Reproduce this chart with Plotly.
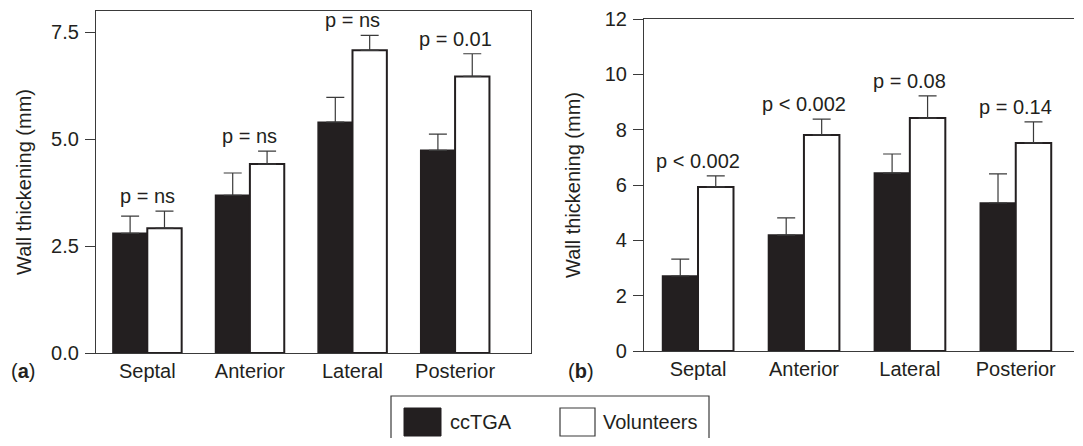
import plotly.graph_objects as go

# ---------------- data ----------------
regions = ["Septal", "Anterior", "Lateral", "Posterior"]
series_names = ["ccTGA", "Volunteers"]

a_cctga = [2.80, 3.69, 5.40, 4.74]
a_cctga_err = [0.40, 0.52, 0.58, 0.38]
a_vol = [2.92, 4.42, 7.08, 6.47]
a_vol_err = [0.40, 0.30, 0.35, 0.53]
a_pvals = ["p = ns", "p = ns", "p = ns", "p = 0.01"]
a_tickvals = [0, 2.5, 5.0, 7.5]
a_ticktext = ["0.0", "2.5", "5.0", "7.5"]

b_cctga = [2.71, 4.19, 6.43, 5.35]
b_cctga_err = [0.61, 0.62, 0.69, 1.05]
b_vol = [5.93, 7.81, 8.42, 7.52]
b_vol_err = [0.40, 0.57, 0.80, 0.76]
b_pvals = ["p < 0.002", "p < 0.002", "p = 0.08", "p = 0.14"]
b_tickvals = [0, 2, 4, 6, 8, 10, 12]
b_ticktext = ["0", "2", "4", "6", "8", "10", "12"]

panel_labels = ["a", "b"]
y_title = "Wall thickening (mm)"

# ---------------- style ----------------
PAGE_W, PAGE_H = 1083, 446
OFF = 8  # default page body margin
W, H = PAGE_W - 2 * OFF, PAGE_H - 2 * OFF   # fit inside the page without overflow
FONT = "Liberation Sans, Arial, Helvetica, sans-serif"
FS = 20
INK = "#231f20"
LINE = "#3a3a3a"


def px_x(p):
    return (p - OFF) / W


def px_y(p):
    return 1 - (p - OFF) / H


fig = go.Figure()


def add_panel(xa, ya, cct, cct_err, vol, vol_err):
    fig.add_trace(go.Bar(
        x=regions, y=cct, name=series_names[0], xaxis=xa, yaxis=ya,
        marker=dict(color=INK, line=dict(color=INK, width=1.5)),
        error_y=dict(type="data", symmetric=False, array=cct_err,
                     arrayminus=[0] * len(cct_err), color=LINE,
                     thickness=1.2, width=9),
        showlegend=False,
    ))
    fig.add_trace(go.Bar(
        x=regions, y=vol, name=series_names[1], xaxis=xa, yaxis=ya,
        marker=dict(color="white", line=dict(color=INK, width=2)),
        error_y=dict(type="data", symmetric=False, array=vol_err,
                     arrayminus=[0] * len(vol_err), color=LINE,
                     thickness=1.2, width=9),
        showlegend=False,
    ))


add_panel("x", "y", a_cctga, a_cctga_err, a_vol, a_vol_err)
add_panel("x2", "y2", b_cctga, b_cctga_err, b_vol, b_vol_err)

tickfont = dict(family=FONT, size=FS, color=INK)
titlefont = dict(family=FONT, size=FS, color=INK)

common_x = dict(type="category", showline=True, linecolor=LINE, linewidth=1.2,
                ticks="", showgrid=False, zeroline=False,
                tickfont=tickfont, ticklabelstandoff=0, automargin=False)
common_y = dict(showline=True, linecolor=LINE, linewidth=1.2,
                ticks="outside", ticklen=10, tickcolor=LINE, tickwidth=1.2,
                showgrid=False, zeroline=False, tickfont=tickfont,
                ticklabelstandoff=2, automargin=False)

fig.update_layout(
    width=W, height=H,
    margin=dict(l=0, r=0, t=0, b=0, autoexpand=False),
    paper_bgcolor="white", plot_bgcolor="white",
    barmode="group", bargap=0.33, bargroupgap=0,
    font=dict(family=FONT, size=FS, color=INK),
    showlegend=False,
    xaxis=dict(domain=[px_x(96), px_x(531)], anchor="y",
               range=[-0.5, 3.74], mirror=True, **common_x),
    yaxis=dict(domain=[px_y(353), px_y(11)], anchor="x",
               range=[0, 8], tickvals=a_tickvals, ticktext=a_ticktext,
               mirror=True,
               title=dict(text=y_title, font=titlefont, standoff=14),
               **common_y),
    xaxis2=dict(domain=[px_x(644), px_x(1074)], anchor="y2",
                range=[-0.51, 3.55], mirror=True, **common_x),
    yaxis2=dict(domain=[px_y(351), px_y(19)], anchor="x2",
                range=[0, 12], tickvals=b_tickvals, ticktext=b_ticktext,
                mirror=False, side="left",
                title=dict(text=y_title, font=titlefont, standoff=18),
                **common_y),
)

annotations = []
# p-value labels above each group
for xa, ya, cct, ce, vol, ve, pv in [
    ("x", "y", a_cctga, a_cctga_err, a_vol, a_vol_err, a_pvals),
    ("x2", "y2", b_cctga, b_cctga_err, b_vol, b_vol_err, b_pvals),
]:
    for i, r in enumerate(regions):
        top = max(cct[i] + ce[i], vol[i] + ve[i])
        annotations.append(dict(
            x=r, y=top, xref=xa, yref=ya, text=pv[i], showarrow=False,
            yanchor="bottom", yshift=2,
            font=dict(family=FONT, size=FS, color=INK)))

# panel letters
for lab, xpx in zip(panel_labels, [9, 566]):
    annotations.append(dict(
        x=px_x(xpx), y=px_y(371), xref="paper", yref="paper",
        text="(<b>%s</b>)" % lab, showarrow=False,
        xanchor="left", yanchor="middle",
        font=dict(family=FONT, size=FS, color=INK)))

# legend (manual, boxed)
shapes = [
    dict(type="rect", xref="paper", yref="paper",
         x0=px_x(391), x1=px_x(709), y0=px_y(396), y1=-0.05,
         line=dict(color=LINE, width=1.2), fillcolor="rgba(0,0,0,0)"),
    dict(type="rect", xref="paper", yref="paper",
         x0=px_x(404), x1=px_x(441), y0=px_y(408), y1=px_y(436),
         line=dict(color=INK, width=1), fillcolor=INK),
    dict(type="rect", xref="paper", yref="paper",
         x0=px_x(560), x1=px_x(595), y0=px_y(408), y1=px_y(436),
         line=dict(color=LINE, width=1.2), fillcolor="white"),
]
for name, xpx in zip(series_names, [448, 601]):
    annotations.append(dict(
        x=px_x(xpx), y=px_y(422), xref="paper", yref="paper",
        text=name, showarrow=False, xanchor="left", yanchor="middle",
        font=dict(family=FONT, size=FS, color=INK)))

fig.update_layout(annotations=annotations, shapes=shapes)

fig.write_html("out.html")
